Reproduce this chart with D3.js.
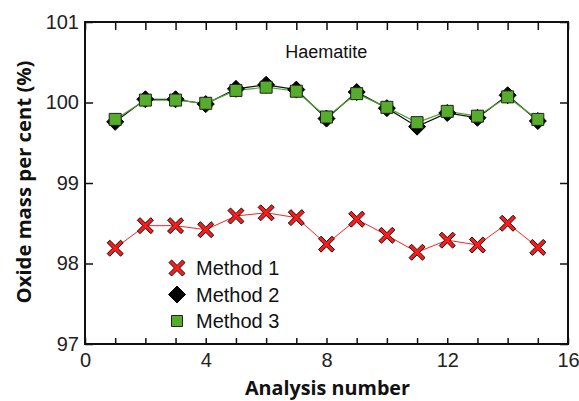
<!DOCTYPE html>
<html>
<head>
<meta charset="utf-8">
<script src="https://cdn.jsdelivr.net/npm/d3@7"></script>
<style>
  body { margin: 0; background: #fff; }
  svg { display: block; }
  .tick text { font-family: "Liberation Sans", Arial, sans-serif; font-size: 20px; fill: #222; }
  .axis path, .axis line { stroke: #111; }
</style>
</head>
<body>
<script>
// analysis numbers and the three methods (oxide mass per cent)
var analysis = [1, 2, 3, 4, 5, 6, 7, 8, 9, 10, 11, 12, 13, 14, 15];
var method1 = [98.19, 98.47, 98.47, 98.42, 98.59, 98.63, 98.57, 98.24, 98.55, 98.35, 98.14, 98.29, 98.23, 98.50, 98.20];
var method2 = [99.76, 100.04, 100.04, 99.98, 100.17, 100.22, 100.16, 99.80, 100.13, 99.93, 99.70, 99.87, 99.81, 100.09, 99.77];
var method3 = [99.79, 100.03, 100.03, 99.99, 100.15, 100.19, 100.14, 99.82, 100.11, 99.94, 99.75, 99.89, 99.83, 100.07, 99.79];
var xTicks = [0, 4, 8, 12, 16];
var yTicks = [97, 98, 99, 100, 101];
var legendNames = ['Method 1', 'Method 2', 'Method 3'];

var W = 579, H = 401;
var margin = { top: 22, right: 11, bottom: 57, left: 85 },
    width = W - margin.left - margin.right,
    height = H - margin.top - margin.bottom;

var svg = d3.select('body').append('svg')
  .attr('width', W)
  .attr('height', H);

var g = svg.append('g')
  .attr('transform', 'translate(' + margin.left + ',' + margin.top + ')');

var x = d3.scaleLinear().domain([0, 16]).range([0, width]);
var y = d3.scaleLinear().domain([97, 101]).range([height, 0]);

// minor ticks, top and bottom, pointing in
g.append('g')
  .attr('class', 'axis')
  .attr('transform', 'translate(0,' + height + ')')
  .call(d3.axisBottom(x).tickValues(d3.range(0, 17)).tickSize(-6).tickFormat(''))
  .call(function(s) { s.select('.domain').remove(); });
g.append('g')
  .attr('class', 'axis')
  .call(d3.axisTop(x).tickValues(d3.range(0, 17)).tickSize(-8).tickFormat(''))
  .call(function(s) { s.select('.domain').remove(); });

// labelled bottom axis
g.append('g')
  .attr('class', 'axis')
  .attr('transform', 'translate(0,' + height + ')')
  .call(d3.axisBottom(x).tickValues(xTicks).tickSize(0).tickPadding(9).tickFormat(d3.format('d')))
  .call(function(s) { s.select('.domain').remove(); });

g.append('g')
  .attr('class', 'axis')
  .call(d3.axisLeft(y).tickValues(yTicks).tickSize(-8).tickPadding(6).tickFormat(d3.format('d')))
  .call(function(s) { s.select('.domain').remove(); });
g.append('g')
  .attr('class', 'axis')
  .attr('transform', 'translate(' + width + ',0)')
  .call(d3.axisRight(y).tickValues(yTicks).tickSize(-8).tickFormat(''))
  .call(function(s) { s.select('.domain').remove(); });

g.selectAll('.axis line').attr('stroke-width', 1.5);

// frame
g.append('rect')
  .attr('width', width)
  .attr('height', height)
  .attr('fill', 'none')
  .attr('stroke', '#111')
  .attr('stroke-width', 2);

g.append('text')
  .attr('x', x(7.99))
  .attr('y', 36)
  .attr('text-anchor', 'middle')
  .style('font-family', '"Liberation Sans", Arial, sans-serif')
  .style('font-size', '18px')
  .attr('fill', '#111')
  .text('Haematite');

var line = function(vals) {
  return d3.line()
    .x(function(d, i) { return x(analysis[i]); })
    .y(function(d) { return y(d); })(vals);
};

g.append('path').attr('d', line(method2)).attr('fill', 'none').attr('stroke', '#111').attr('stroke-width', 1.2);
g.append('path').attr('d', line(method3)).attr('fill', 'none').attr('stroke', '#4aa52a').attr('stroke-width', 1.2);
g.append('path').attr('d', line(method1)).attr('fill', 'none').attr('stroke', '#ff2020').attr('stroke-width', 1);

// marker shapes
var xPath = (function() {
  var a = 8, t = 2.6;
  var p = [[0, -t], [a - t, -a], [a, -a + t], [t, 0], [a, a - t], [a - t, a], [0, t],
           [-a + t, a], [-a, a - t], [-t, 0], [-a, -a + t], [-a + t, -a]];
  return 'M' + p.map(function(q) { return q.join(','); }).join('L') + 'Z';
})();
var diamondPath = 'M0,-8.5L8.5,0L0,8.5L-8.5,0Z';
var squarePath = 'M-6,-6L6,-6L6,6L-6,6Z';

function markers(vals, path, fill, stroke, sw) {
  g.append('g').selectAll('path')
    .data(vals)
    .enter()
    .append('path')
    .attr('d', path)
    .attr('transform', function(d, i) { return 'translate(' + x(analysis[i]) + ',' + y(d) + ')'; })
    .attr('fill', fill)
    .attr('stroke', stroke)
    .attr('stroke-width', sw);
}
markers(method2, diamondPath, '#000', '#000', 1);
markers(method3, squarePath, '#56ad2b', '#222', 1);
markers(method1, xPath, '#ff1a1a', '#111', 1);

// legend
var legendShapes = [
  { path: xPath, fill: '#ff1a1a', stroke: '#111' },
  { path: diamondPath, fill: '#000', stroke: '#000' },
  { path: 'M-5.5,-5.5L5.5,-5.5L5.5,5.5L-5.5,5.5Z', fill: '#56ad2b', stroke: '#222' }
];
var legend = svg.append('g');
var lg = legend.selectAll('g')
  .data(legendNames)
  .enter()
  .append('g')
  .attr('transform', function(d, i) { return 'translate(177,' + (268 + i * 26.5) + ')'; });
lg.append('path')
  .attr('d', function(d, i) { return legendShapes[i].path; })
  .attr('fill', function(d, i) { return legendShapes[i].fill; })
  .attr('stroke', function(d, i) { return legendShapes[i].stroke; })
  .attr('stroke-width', 1);
lg.append('text')
  .attr('x', 19)
  .attr('y', 7)
  .style('font-family', '"Liberation Sans", Arial, sans-serif')
  .style('font-size', '20px')
  .attr('fill', '#111')
  .text(function(d) { return d; });

// axis titles
svg.append('text')
  .attr('x', margin.left + width / 2 + 1)
  .attr('y', 395)
  .attr('text-anchor', 'middle')
  .attr('textLength', 165)
  .attr('lengthAdjust', 'spacingAndGlyphs')
  .style('font-family', '"Open Sans", Lato, sans-serif')
  .style('font-weight', 'bold')
  .style('font-size', '19px')
  .attr('fill', '#111')
  .text('Analysis number');

svg.append('text')
  .attr('transform', 'translate(31,' + (margin.top + 160) + ') rotate(-90)')
  .attr('text-anchor', 'middle')
  .attr('textLength', 243)
  .attr('lengthAdjust', 'spacingAndGlyphs')
  .style('font-family', '"Open Sans", Lato, sans-serif')
  .style('font-weight', 'bold')
  .style('font-size', '19px')
  .attr('fill', '#111')
  .text('Oxide mass per cent (%)');
</script>
</body>
</html>
